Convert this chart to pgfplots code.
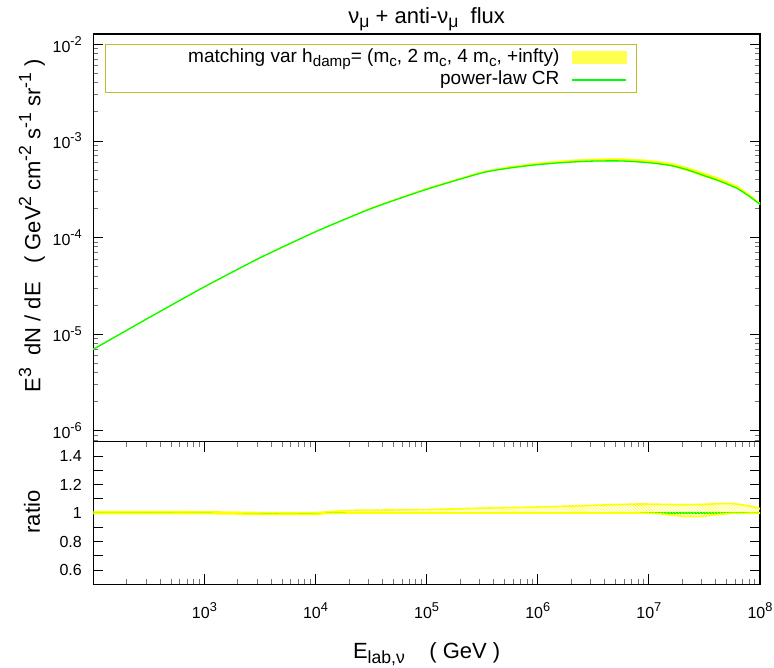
\documentclass[border=0pt]{standalone}
\usepackage{fontspec}
\setmainfont{Liberation Sans}
\usepackage{graphicx}
\usepackage{pgfplots}
\usepackage{pgfplotstable}
\pgfplotsset{compat=1.18}
\usetikzlibrary{patterns}
\definecolor{bandyellow}{RGB}{255,255,0}
\definecolor{legyellow}{RGB}{255,255,80}
\definecolor{linegreen}{RGB}{0,255,0}
\definecolor{legbox}{RGB}{190,190,40}
\newcommand{\gsub}[1]{\raisebox{-0.22em}{\scalebox{0.8}{#1}}}
\newcommand{\gsup}[1]{\raisebox{0.42em}{\scalebox{0.8}{#1}}}

\pgfplotstableread{
E        flux
1e2      6.97e-6
3.162e2  1.479e-5
1e3      3.09e-5
3.162e3  6.17e-5
1e4      1.148e-4
3.162e4  1.995e-4
1e5      3.16e-4
3.162e5  4.68e-4
5.623e5  5.25e-4
1e6      5.69e-4
1.778e6  6.00e-4
3.162e6  6.19e-4
5.623e6  6.21e-4
1e7      5.96e-4
1.585e7  5.56e-4
2.239e7  5.01e-4
3.162e7  4.37e-4
4.467e7  3.80e-4
6.310e7  3.20e-4
7.943e7  2.69e-4
1e8      2.21e-4
}\fluxtab

% band outline: upper edge left to right, then lower edge right to left
\pgfplotstableread{
E        f
1e2      7.03e-6
3.162e2  1.491e-5
1e3      3.115e-5
3.162e3  6.20e-5
1e4      1.157e-4
3.162e4  2.040e-4
1e5      3.24e-4
3.162e5  4.83e-4
5.623e5  5.45e-4
1e6      5.93e-4
1.778e6  6.28e-4
3.162e6  6.52e-4
5.623e6  6.57e-4
1e7      6.32e-4
1.585e7  5.88e-4
2.239e7  5.30e-4
3.162e7  4.64e-4
4.467e7  4.05e-4
6.310e7  3.40e-4
7.943e7  2.83e-4
1e8      2.28e-4
1e8      2.21e-4
7.943e7  2.69e-4
6.310e7  3.19e-4
4.467e7  3.75e-4
3.162e7  4.27e-4
2.239e7  4.89e-4
1.585e7  5.50e-4
1e7      5.96e-4
5.623e6  6.21e-4
3.162e6  6.19e-4
1.778e6  6.00e-4
1e6      5.69e-4
5.623e5  5.25e-4
3.162e5  4.68e-4
1e5      3.16e-4
3.162e4  1.995e-4
1e4      1.140e-4
3.162e3  6.12e-5
1e3      3.07e-5
3.162e2  1.468e-5
1e2      6.91e-6
}\fluxband

\pgfplotstableread{
E        up     lo
1e2      1.009  0.996
3.162e2  1.009  0.996
1e3      1.008  0.996
3.162e3  1.003  0.991
5.623e3  1.002  0.990
1e4      1.003  0.991
1.259e4  1.008  0.997
1.995e4  1.018  1.000
3.162e4  1.020  1.000
1e5      1.024  1.000
3.162e5  1.034  1.000
1e6      1.042  1.000
3.162e6  1.054  1.000
7.943e6  1.063  1.000
1.259e7  1.061  0.994
1.995e7  1.058  0.978
2.818e7  1.060  0.976
3.981e7  1.064  0.988
5.623e7  1.066  0.997
7.943e7  1.050  0.998
1e8      1.031  0.999
}\ratiotab

\pgfplotstableread{
E        r
1e2      1.009
3.162e2  1.009
1e3      1.008
3.162e3  1.003
5.623e3  1.002
1e4      1.003
1.259e4  1.008
1.995e4  1.018
3.162e4  1.020
1e5      1.024
3.162e5  1.034
1e6      1.042
3.162e6  1.054
7.943e6  1.063
1.259e7  1.061
1.995e7  1.058
2.818e7  1.060
3.981e7  1.064
5.623e7  1.066
7.943e7  1.050
1e8      1.031
1e8      0.999
7.943e7  0.998
5.623e7  0.997
3.981e7  0.988
2.818e7  0.976
1.995e7  0.978
1.259e7  0.994
7.943e6  1.000
3.162e6  1.000
1e6      1.000
3.162e5  1.000
1e5      1.000
3.162e4  1.000
1.995e4  1.000
1.259e4  0.997
1e4      0.991
5.623e3  0.990
3.162e3  0.991
1e3      0.996
3.162e2  0.996
1e2      0.996
}\ratioband

\pgfplotsset{
  gpstyle/.style={
    scale only axis,
    width=666.7bp,
    tick align=inside,
    major tick length=10bp,
    minor tick length=5bp,
    axis line style={line width=1.4bp},
    major tick style={line width=0.9bp, black},
    minor tick style={line width=0.9bp, black!55},
    tick label style={font=\fontsize{16bp}{19bp}\selectfont},
    label style={font=\fontsize{22bp}{26bp}\selectfont},
    yticklabel style={xshift=-8bp},
  }
}

\begin{document}
\begin{tikzpicture}
\useasboundingbox (0bp,0bp) rectangle (774bp,-668bp);

\begin{axis}[gpstyle,
  at={(93.3bp,-34bp)}, anchor=north west,
  height=407.7bp,
  xmode=log, ymode=log,
  xmin=100, xmax=1e8, ymin=7.7e-7, ymax=1.28e-2,
  xtick={1e3,1e4,1e5,1e6,1e7},
  xticklabels={},
  xtick style={draw=none},
  ytick={1e-6,1e-5,1e-4,1e-3,1e-2},
  yticklabels={10\gsup{-6},10\gsup{-5},10\gsup{-4},10\gsup{-3},10\gsup{-2}},
  minor ytick={8e-7,9e-7,2e-6,3e-6,4e-6,5e-6,6e-6,7e-6,8e-6,9e-6,2e-5,3e-5,4e-5,5e-5,6e-5,7e-5,8e-5,9e-5,2e-4,3e-4,4e-4,5e-4,6e-4,7e-4,8e-4,9e-4,2e-3,3e-3,4e-3,5e-3,6e-3,7e-3,8e-3,9e-3},
  ytick pos=both,
  title={ν\gsub{μ} + anti-ν\gsub{μ}~~flux},
  title style={font=\fontsize{22bp}{26bp}\selectfont, at={(axis description cs:0.5,1.012)}, anchor=base},
  ylabel={E\gsup{3}~~dN / dE~~~( GeV\gsup{2} cm\gsup{-2} s\gsup{-1} sr\gsup{-1} )},
  ylabel style={at={(axis description cs:-0.092,0.53)}, anchor=center},
  legend style={at={(axis description cs:0.0175,0.9747)}, anchor=north west,
    draw=legbox, line width=1bp,
    font=\fontsize{19bp}{22bp}\selectfont,
    inner xsep=10bp, inner ysep=3.5bp, column sep=12bp, row sep=3bp,
    nodes={inner sep=0bp, text height=14bp, text depth=5bp}},
  legend plot pos=right,
  legend cell align=right,
]
\addlegendimage{legyellow, legend image code/.code={\fill[legyellow] (0bp,-6bp) rectangle (54bp,6bp);}}
\addlegendentry{\makebox[444bp][r]{matching var h\gsub{damp}= (m\gsub{c}, 2 m\gsub{c}, 4 m\gsub{c}, +infty)}}
\addlegendimage{linegreen, line width=1.5bp, legend image code/.code={\draw[draw=linegreen, line width=1.5bp] (0bp,0bp) -- (54bp,0bp);}}
\addlegendentry{power-law CR}

\addplot[fill=bandyellow, draw=bandyellow, line width=0.6bp, forget plot] table[x=E, y=f] {\fluxband};
\addplot[linegreen, line width=1.3bp, smooth, tension=0.4, forget plot] table[x=E, y=flux] {\fluxtab};
\end{axis}

\begin{axis}[gpstyle,
  at={(93.3bp,-441.7bp)}, anchor=north west,
  height=142.6bp,
  xmode=log,
  xmin=100, xmax=1e8, ymin=0.5, ymax=1.5,
  xtick={1e3,1e4,1e5,1e6,1e7,1e8},
  xticklabels={10\gsup{3},10\gsup{4},10\gsup{5},10\gsup{6},10\gsup{7},10\gsup{8}},
  minor xtick={2e2,3e2,4e2,5e2,6e2,7e2,8e2,9e2,2e3,3e3,4e3,5e3,6e3,7e3,8e3,9e3,2e4,3e4,4e4,5e4,6e4,7e4,8e4,9e4,2e5,3e5,4e5,5e5,6e5,7e5,8e5,9e5,2e6,3e6,4e6,5e6,6e6,7e6,8e6,9e6,2e7,3e7,4e7,5e7,6e7,7e7,8e7,9e7},
  ytick={0.6,0.7,0.8,0.9,1,1.1,1.2,1.3,1.4},
  yticklabels={0.6,,0.8,,1,,1.2,,1.4},
  xtick pos=both, ytick pos=both,
  xticklabel style={yshift=-15bp},
  ylabel={ratio},
  ylabel style={at={(axis description cs:-0.092,0.507)}, anchor=center},
  xlabel={E\gsub{lab,ν}~~~~( GeV )},
  xlabel style={at={(axis description cs:0.5,-0.52)}, anchor=base},
]
\addplot[linegreen, line width=1.3bp] coordinates {(1e2,1) (1e8,1)};
\addplot[pattern=north west lines, pattern color=bandyellow, draw=none] table[x=E, y=r] {\ratioband};
\addplot[bandyellow, line width=1.6bp, smooth, tension=0.4] table[x=E, y=up] {\ratiotab};
\addplot[bandyellow, line width=1.6bp, smooth, tension=0.4] table[x=E, y=lo] {\ratiotab};
\end{axis}
\end{tikzpicture}
\end{document}
